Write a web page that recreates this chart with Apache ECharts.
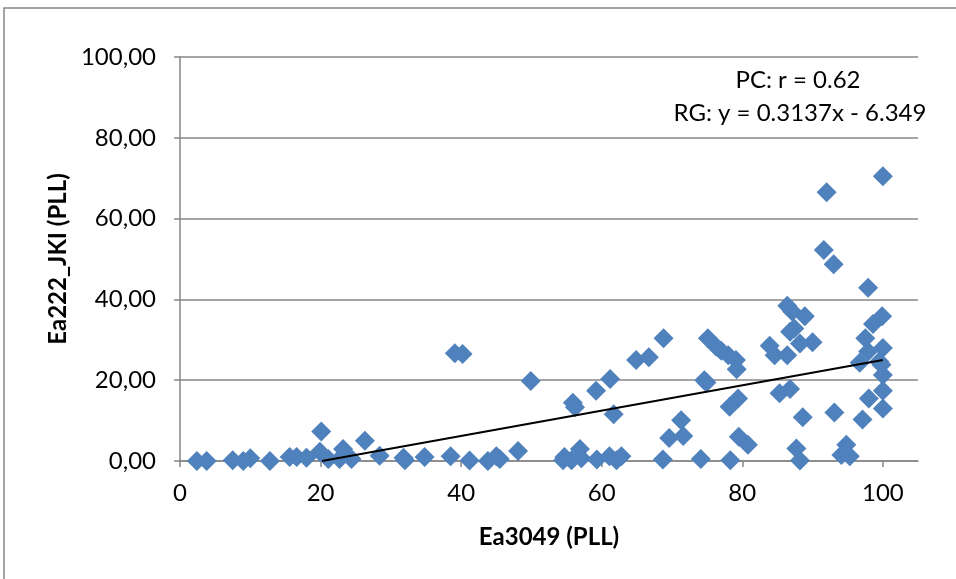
<!DOCTYPE html>
<html>
<head>
<meta charset="utf-8">
<script src="https://cdn.jsdelivr.net/npm/echarts@6/dist/echarts.min.js"></script>
<style>
  html, body { margin: 0; padding: 0; background: #fff; }
  #echarts-container { width: 956px; height: 579px; }
</style>
</head>
<body>
<div id="echarts-container"></div>
<script>
// Ea3049 (PLL) vs Ea222_JKI (PLL)
const xValues = [
  2.4, 3.8, 7.5, 9.0, 10.0, 12.8, 15.6, 16.6, 18.0, 20.1, 19.9, 21.1, 22.7, 23.2, 24.4,
  26.3, 28.4, 31.8, 32.0, 34.8, 38.5, 39.1, 40.2, 41.2, 43.8, 45.0, 45.5, 48.1, 49.9,
  54.5, 54.7, 55.7, 55.9, 56.2, 56.9, 57.1, 59.2, 59.3, 61.1, 61.2, 61.7, 62.1, 62.8,
  64.9, 66.7, 68.8, 68.7, 69.6, 71.3, 71.6, 74.1, 74.9, 74.6, 75.1, 76.3, 77.0, 78.0,
  79.1, 79.2, 79.4, 78.2, 79.5, 80.8, 78.3,
  83.9, 84.6, 85.3, 86.4, 86.4, 87.1, 86.8, 87.4, 86.8, 88.2, 88.9, 90.0, 88.6, 87.7,
  88.2, 91.6, 92.0, 93.0, 93.1, 94.1, 94.8, 95.3, 96.7, 97.1, 97.5, 97.9, 97.9, 98.0,
  98.6, 99.5, 99.9, 100, 100, 100, 100, 100, 99.8
]
const yValues = [
  0, 0, 0.2, 0, 0.7, 0, 1.0, 1.0, 0.8, 7.3, 2.3, 0.5, 0.5, 3.0, 0.5,
  5.0, 1.3, 0.8, 0.2, 1.0, 1.2, 26.7, 26.5, 0.1, 0, 1.2, 0.5, 2.5, 19.8,
  0.2, 1.0, 0.2, 14.4, 13.3, 3.0, 0.7, 17.4, 0.4, 1.2, 20.3, 11.6, 0.2, 1.2,
  25.0, 25.7, 30.4, 0.4, 5.7, 10.1, 6.2, 0.5, 19.4, 20.0, 30.4, 28.3, 27.3, 26.2,
  25.0, 22.7, 15.5, 13.4, 6.0, 4.0, 0.2,
  28.5, 26.2, 16.8, 26.2, 38.4, 37.0, 32.0, 32.8, 17.8, 29.1, 35.8, 29.4, 10.8, 3.1,
  0.1, 52.2, 66.5, 48.7, 12.0, 1.5, 4.0, 1.2, 24.3, 10.3, 30.4, 27.1, 42.9, 15.5,
  33.9, 24.6, 35.8, 28.0, 21.3, 17.4, 13.0, 70.5, 23.8
]

// trend line ends (clipped at y = 0 like the original)
const trendX = [20.2, 100]
const trendY = [0, 25.0]

const xTicks = [0, 20, 40, 60, 80, 100]
const pcText = 'PC: r = 0.62'
const rgText = 'RG: y = 0.3137x - 6.349'

const FONT = 'Lato, "Open Sans", sans-serif'
const FONT_SIZE = 24
const AXIS_GRAY = '#868686'

function init(id = 'echarts-container') {
  const myChart = getChart(id)
  myChart.setOption(getOptions())
}

function getOptions() {
  const points = xValues.map((x, i) => [x, yValues[i]])
  const trend = trendX.map((x, i) => [x, trendY[i]])

  return {
    animation: false,
    textStyle: { fontFamily: FONT },
    grid: { left: 180, right: 38, top: 57, bottom: 118 },
    graphic: [
      {
        type: 'rect',
        shape: { x: 4, y: 8, width: 1200, height: 1000 },
        style: { fill: 'none', stroke: AXIS_GRAY, lineWidth: 1.5 },
        silent: true
      },
      {
        type: 'text',
        x: 798, y: 80,
        style: { text: pcText, fontSize: FONT_SIZE, fontFamily: FONT, fill: '#000', align: 'center', verticalAlign: 'middle' }
      },
      {
        type: 'text',
        x: 800, y: 113,
        style: { text: rgText, fontSize: FONT_SIZE, fontFamily: FONT, fill: '#000', align: 'center', verticalAlign: 'middle' }
      }
    ],
    xAxis: {
      type: 'value',
      min: 0,
      max: 105,
      name: 'Ea3049 (PLL)',
      nameLocation: 'middle',
      nameGap: 64,
      nameTextStyle: { fontSize: FONT_SIZE, fontWeight: 'bold', color: '#000', fontFamily: FONT },
      axisLine: { onZero: false, lineStyle: { color: AXIS_GRAY, width: 1.5 } },
      axisTick: { show: true, customValues: xTicks, length: 6, lineStyle: { color: AXIS_GRAY, width: 1.5 } },
      axisLabel: { customValues: xTicks, fontSize: FONT_SIZE, color: '#000', margin: 20, fontFamily: FONT },
      splitLine: { show: false }
    },
    yAxis: {
      type: 'value',
      min: 0,
      max: 100,
      interval: 20,
      name: 'Ea222_JKI (PLL)',
      nameLocation: 'middle',
      nameGap: 52,
      nameRotate: 90,
      nameTextStyle: { fontSize: FONT_SIZE, fontWeight: 'bold', color: '#000', fontFamily: FONT },
      axisLine: { show: true, lineStyle: { color: AXIS_GRAY, width: 1.5 } },
      axisTick: { show: true, length: 6, lineStyle: { color: AXIS_GRAY, width: 1.5 } },
      axisLabel: {
        fontSize: FONT_SIZE,
        color: '#000',
        margin: 24,
        fontFamily: FONT,
        formatter: v => v.toFixed(2).replace('.', ',')
      },
      splitLine: { show: true, lineStyle: { color: AXIS_GRAY, width: 1.5 } }
    },
    series: [
      {
        name: 'data',
        type: 'scatter',
        symbol: 'diamond',
        symbolSize: 20,
        data: points,
        itemStyle: { color: '#4F81BD', opacity: 1 },
        z: 2
      },
      {
        name: 'trend',
        type: 'line',
        data: trend,
        symbol: 'none',
        lineStyle: { color: '#000', width: 2 },
        z: 3
      }
    ]
  }
}

function getChart(id) {
  let container = document.getElementById(id)
  if (!container) {
    container = document.createElement('div')
    container.id = id
    document.body.appendChild(container)
  }
  return echarts.init(container)
}

init()
</script>
</body>
</html>
